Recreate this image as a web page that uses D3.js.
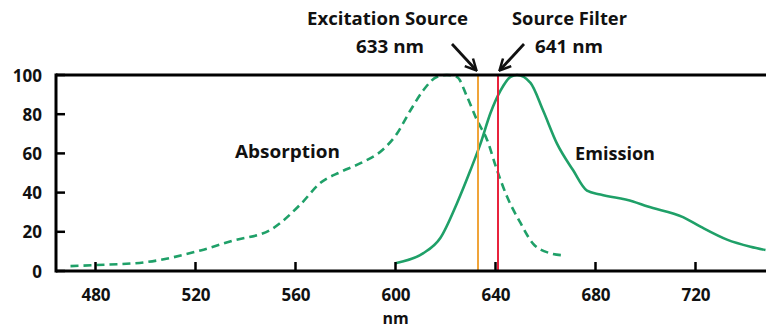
<!DOCTYPE html>
<html><head><meta charset="utf-8">
<script src="https://cdn.jsdelivr.net/npm/d3@7"></script>
<style>body{margin:0;background:#fff}svg{display:block}text{font-family:"Open Sans",sans-serif;font-weight:bold;fill:#111}</style>
</head><body><svg id="c" width="766" height="328"></svg>
<script>
const xTicks = [480, 520, 560, 600, 640, 680, 720];
const yTicks = [0, 20, 40, 60, 80, 100];
const absNm  = [470, 480, 500, 522, 535, 550, 562, 570, 578, 586, 595, 600, 606, 611, 616.5, 620.5, 624.6, 628.6, 632.6, 636.6, 640.6, 644.6, 650, 655, 662, 667];
const absVal = [2.5, 3, 4.5, 10.5, 15.5, 21, 34, 45, 50.5, 55, 62, 69, 82, 92, 99, 100, 99, 89, 77, 67, 51.5, 38, 24.5, 14, 9, 8];
const emNm   = [600, 602, 611, 618, 624.6, 630, 634, 638, 642, 646, 648.6, 654, 659, 664.6, 671, 676.6, 682, 695, 700.6, 715, 722, 732.6, 742, 748];
const emVal  = [4, 4.6, 9, 17, 34.6, 51.5, 65, 80.6, 92, 99, 100, 96, 82, 65, 51.5, 41, 39, 35.5, 33, 27.5, 22.6, 16, 12.4, 10.7];
const excitationNm = 633, filterNm = 641;

const svg = d3.select("#c");
const x = d3.scaleLinear().domain([480, 720]).range([95.5, 695.5]);
const y = d3.scaleLinear().domain([0, 100]).range([271, 75]);

// curves
const line = d3.line().x(d => x(d[0])).y(d => y(d[1])).curve(d3.curveMonotoneX);
svg.append("path").datum(absNm.map((n, i) => [n, absVal[i]]))
  .attr("d", line).attr("fill", "none").attr("stroke", "#1fa068").attr("stroke-width", 2.6)
  .attr("stroke-dasharray", "8,5");
svg.append("path").datum(emNm.map((n, i) => [n, emVal[i]]))
  .attr("d", line).attr("fill", "none").attr("stroke", "#1fa068").attr("stroke-width", 2.6);

// vertical lines
svg.append("line").attr("x1", x(excitationNm)).attr("x2", x(excitationNm)).attr("y1", y(100)).attr("y2", y(0))
  .attr("stroke", "#f0a43a").attr("stroke-width", 2);
svg.append("line").attr("x1", x(filterNm)).attr("x2", x(filterNm)).attr("y1", y(100)).attr("y2", y(0))
  .attr("stroke", "#e8233c").attr("stroke-width", 2);

// axes
const xAxis = d3.axisBottom(x).tickValues(xTicks).tickSize(0).tickPadding(0);
const gx = svg.append("g").attr("transform", `translate(0,${y(0)})`).call(xAxis);
gx.select(".domain").remove();
gx.selectAll(".tick line").remove();
gx.selectAll(".tick text").attr("y", 30).attr("dy", 0).attr("font-size", 17).attr("font-family", null).style("fill", "#111");
svg.append("g").selectAll("line").data(xTicks).join("line")
  .attr("x1", d => x(d)).attr("x2", d => x(d)).attr("y1", y(0)).attr("y2", y(0) - 9)
  .attr("stroke", "#000").attr("stroke-width", 2.5);

const gy = svg.append("g").attr("transform", "translate(56,0)").call(d3.axisLeft(y).tickValues(yTicks).tickSize(0).tickPadding(0));
gy.select(".domain").remove();
gy.selectAll(".tick text").attr("x", -14).attr("dy", "0.36em").attr("font-size", 17).attr("font-family", null).style("fill", "#111");
svg.append("g").selectAll("line").data(yTicks).join("line")
  .attr("x1", 56).attr("x2", 65).attr("y1", d => y(d)).attr("y2", d => y(d))
  .attr("stroke", "#000").attr("stroke-width", 2.5);

// frame lines
svg.append("line").attr("x1", 56).attr("x2", 766).attr("y1", y(0)).attr("y2", y(0)).attr("stroke", "#000").attr("stroke-width", 3);
svg.append("line").attr("x1", 56).attr("x2", 766).attr("y1", y(100)).attr("y2", y(100)).attr("stroke", "#000").attr("stroke-width", 3);
svg.append("line").attr("x1", 56).attr("x2", 56).attr("y1", y(100) - 1.5).attr("y2", y(0) + 1.5).attr("stroke", "#000").attr("stroke-width", 3);

// labels
function label(t, x0, x1, base, size) {
  svg.append("text").attr("x", x0).attr("y", base).attr("font-size", size)
    .attr("textLength", x1 - x0).attr("lengthAdjust", "spacingAndGlyphs").text(t);
}
label("Excitation Source", 307, 468, 25, 17);
label("633 nm", 356, 424, 53, 17);
label("Source Filter", 512, 627, 25, 17);
label("641 nm", 535, 603, 53, 17);
label("Absorption", 235, 340, 158, 17);
label("Emission", 575, 655, 160, 17);
svg.append("text").attr("x", x(600)).attr("y", 324).attr("text-anchor", "middle").attr("font-size", 16).text("nm");

// arrows
const defs = svg.append("defs");
defs.append("marker").attr("id", "ah").attr("viewBox", "0 0 10 10").attr("refX", 8.5).attr("refY", 5)
  .attr("markerWidth", 5).attr("markerHeight", 5).attr("orient", "auto").attr("markerUnits", "strokeWidth")
  .append("path").attr("d", "M1,1 L9,5 L1,9").attr("fill", "none").attr("stroke", "#111").attr("stroke-width", 1.8);
svg.append("line").attr("x1", 452).attr("y1", 44).attr("x2", x(excitationNm) - 2).attr("y2", y(100) - 5)
  .attr("stroke", "#111").attr("stroke-width", 2.8).attr("marker-end", "url(#ah)");
svg.append("line").attr("x1", 524).attr("y1", 44).attr("x2", x(filterNm) + 2).attr("y2", y(100) - 5)
  .attr("stroke", "#111").attr("stroke-width", 2.8).attr("marker-end", "url(#ah)");
</script></body></html>
